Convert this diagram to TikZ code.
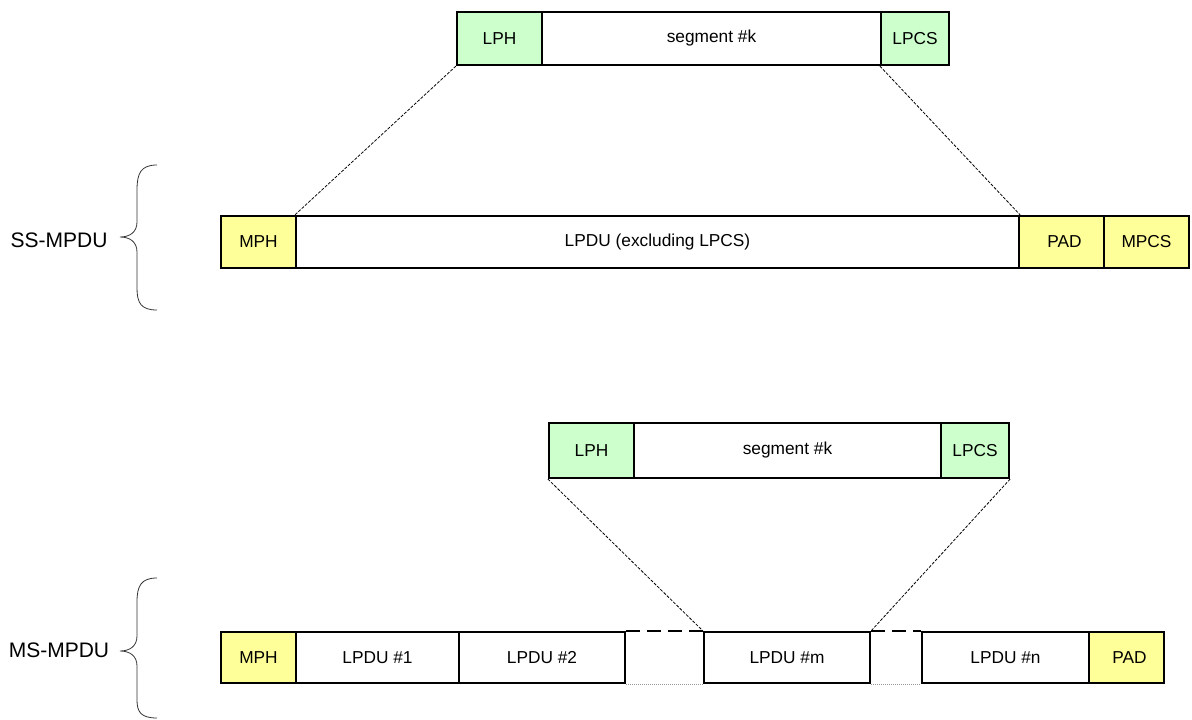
\documentclass[tikz,border=0pt]{standalone}
\usepackage{fontspec}
\setmainfont{Liberation Sans}
\begin{document}
\begin{tikzpicture}[x=1pt,y=-1pt,
  fieldbox/.style={draw=black, line width=2.2pt, inner sep=0pt, font=\fontsize{17.3}{20}\selectfont},
  gr/.style={fieldbox, fill={rgb,255:red,204;green,255;blue,204}},
  yl/.style={fieldbox, fill={rgb,255:red,255;green,255;blue,153}},
  wh/.style={fieldbox, fill=white},
  zoomline/.style={line width=0.8pt, dash pattern=on 3pt off 1.5pt},
  bracestyle/.style={line width=0.8pt, draw=black!80},
  lbl/.style={font=\fontsize{21}{24}\selectfont, inner sep=0pt}]
\useasboundingbox (0,0) rectangle (1192,720);
\newcommand{\fld}[7]{\node[#6, minimum width={#3-#2}, minimum height={#5-#4}] (#1) at ({(#2+#3)/2},{(#4+#5)/2}) {#7};}
% top segment
\fld{lphA}{457}{542}{12}{65}{gr}{LPH}
\fld{segA}{542}{881}{12}{65}{wh}{segment \#k}
\fld{lpcsA}{881}{949}{12}{65}{gr}{LPCS}
% SS row
\fld{mphA}{221}{296}{216}{268}{yl}{MPH}
\fld{lpduA}{296}{1019}{216}{268}{wh}{LPDU (excluding LPCS)}
\fld{padA}{1019}{1104}{216}{268}{yl}{\hspace*{6pt}PAD}
\fld{mpcsA}{1104}{1189}{216}{268}{yl}{MPCS}
\draw[zoomline] (lphA.south west) -- (lpduA.north west);
\draw[zoomline] (lpcsA.south west) -- (lpduA.north east);
% second segment
\fld{lphB}{549}{634}{423}{478}{gr}{LPH}
\fld{segB}{634}{941}{423}{478}{wh}{segment \#k}
\fld{lpcsB}{941}{1009}{423}{478}{gr}{LPCS}
% MS row
\fld{mphB}{221}{296}{632}{683}{yl}{MPH}
\fld{lpdu1}{296}{459}{632}{683}{wh}{LPDU \#1}
\fld{lpdu2}{459}{625}{632}{683}{wh}{LPDU \#2}
\fld{lpdum}{704}{870}{632}{683}{wh}{LPDU \#m}
\fld{lpdun}{922}{1089}{632}{683}{wh}{LPDU \#n}
\fld{padB}{1089}{1164}{632}{683}{yl}{\hspace*{6pt}PAD}
\draw[line width=2.2pt, dash pattern=on 14pt off 7pt] (lpdu2.north east) -- (lpdum.north west);
\draw[line width=2.2pt, dash pattern=on 14pt off 7pt] (lpdum.north east) -- (lpdun.north west);
\draw[line width=0.8pt, black!40, dash pattern=on 1pt off 1pt] (lpdu2.south east) -- (lpdum.south west);
\draw[line width=0.8pt, black!40, dash pattern=on 1pt off 1pt] (lpdum.south east) -- (lpdun.south west);
\draw[zoomline] (lphB.south west) -- (lpdum.north west);
\draw[zoomline] (lpcsB.south east) -- (lpdum.north east);
% labels and braces
\node[lbl] (ss) at (59,240) {SS-MPDU};
\node[lbl] (ms) at (59,650) {MS-MPDU};
\draw[bracestyle] (157,165) .. controls (141,165) and (137,173) .. (137,190) -- (137,222) .. controls (137,232) and (130,237) .. (120,237) .. controls (130,237) and (137,242) .. (137,252) -- (137,288) .. controls (137,303) and (141,310) .. (157,310);
\draw[bracestyle] (157,578) .. controls (141,578) and (137,586) .. (137,602) -- (137,636) .. controls (137,646) and (130,651) .. (120,651) .. controls (130,651) and (137,656) .. (137,666) -- (137,700) .. controls (137,712) and (141,718) .. (157,718);
\end{tikzpicture}
\end{document}
